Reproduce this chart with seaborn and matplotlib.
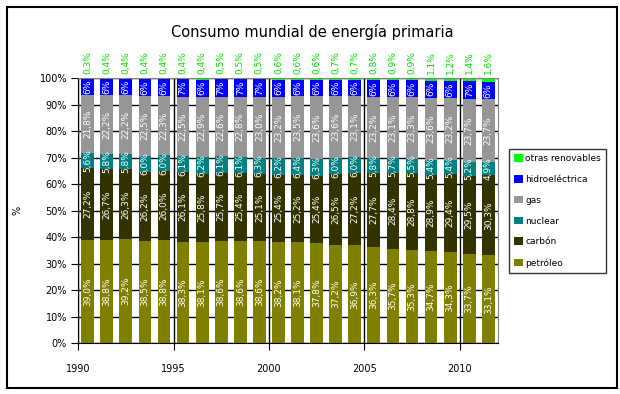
import matplotlib
matplotlib.use("Agg")
import matplotlib.pyplot as plt
from matplotlib.patches import Patch, Rectangle
import numpy as np
import pandas as pd
import seaborn as sns

anios = list(range(1990, 2012))
petroleo = [39.0, 38.8, 39.2, 38.5, 38.8, 38.3, 38.1, 38.6, 38.6, 38.6, 38.2,
            38.1, 37.8, 37.2, 36.9, 36.3, 35.7, 35.3, 34.7, 34.3, 33.7, 33.1]
carbon = [27.2, 26.7, 26.3, 26.2, 26.0, 26.1, 25.8, 25.7, 25.4, 25.1, 25.4,
          25.2, 25.4, 26.5, 27.2, 27.7, 28.4, 28.8, 28.9, 29.4, 29.5, 30.3]
nuclear = [5.6, 5.8, 5.8, 6.0, 6.0, 6.1, 6.2, 6.1, 6.1, 6.3, 6.2,
           6.4, 6.3, 6.0, 6.0, 5.8, 5.7, 5.5, 5.4, 5.4, 5.2, 4.9]
gas = [21.8, 22.2, 22.2, 22.5, 22.3, 22.5, 22.9, 22.6, 22.8, 23.0, 23.2,
       23.5, 23.6, 23.6, 23.1, 23.2, 23.1, 23.3, 23.6, 23.2, 23.7, 23.7]
hidro = [6.1, 6.1, 6.1, 6.4, 6.4, 6.6, 6.4, 6.6, 6.6, 6.6, 6.4,
         6.2, 6.3, 6.0, 6.1, 6.2, 6.2, 6.2, 6.3, 6.4, 6.6, 6.4]
renovables = [0.3, 0.4, 0.4, 0.4, 0.4, 0.4, 0.4, 0.5, 0.5, 0.5, 0.6,
              0.6, 0.6, 0.7, 0.7, 0.8, 0.9, 0.9, 1.1, 1.2, 1.4, 1.6]

fuentes = ['petróleo', 'carbón', 'nuclear', 'gas', 'hidroeléctrica', 'otras renovables']
colores = ['#808000', '#333300', '#008080', '#969696', '#0000ff', '#00ff00']

df = pd.DataFrame({'anio': anios, 'petróleo': petroleo, 'carbón': carbon,
                   'nuclear': nuclear, 'gas': gas, 'hidroeléctrica': hidro,
                   'otras renovables': renovables})
df['x'] = df['anio'] + 0.5  # barras centradas en el año
acum = df[fuentes].cumsum(axis=1)

fig = plt.figure(figsize=(6.2, 3.94), dpi=100)
ax = fig.add_axes([0.126, 0.129, 0.677, 0.673])

# capas de arriba hacia abajo
for f, c in zip(fuentes[::-1], colores[::-1]):
    sns.barplot(x=df['x'], y=acum[f], color=c, saturation=1, width=0.67,
                native_scale=True, errorbar=None, ax=ax, linewidth=0)

# etiquetas dentro de las barras
for i, row in df.iterrows():
    base = 0
    for f in fuentes[:5]:
        v = row[f]
        if f == 'hidroeléctrica':
            txt = f"{v:.0f}%"
        else:
            txt = f"{v:.1f}%".replace('.', ',')
        ax.text(row['x'], base + v / 2, txt, rotation=90, ha='center', va='center',
                color='white', fontsize=6.5)
        base += v
    ax.text(row['x'], 101.5, f"{row['otras renovables']:.1f}%".replace('.', ','),
            rotation=90, ha='center', va='bottom', color='#00dd00', fontsize=6.5,
            clip_on=False)

ax.set_xlim(1990, 2012)
ax.set_ylim(0, 100)
ax.set_xticks(range(1990, 2011, 5))
ax.set_xticklabels([str(a) for a in range(1990, 2011, 5)], fontsize=7)
ax.set_yticks(range(0, 101, 10))
ax.set_yticklabels([f"{v}%" for v in range(0, 101, 10)], fontsize=7)
ax.tick_params(axis='x', length=5, pad=10, color='black')
ax.tick_params(axis='y', length=5, pad=3, color='black')
ax.set_xlabel('')
ax.set_ylabel('%', fontsize=7)
ax.yaxis.set_label_coords(-0.133, 0.5)

ax.set_axisbelow(True)
ax.grid(True, axis='both', color='black', linewidth=1)
for s in ['top', 'right']:
    ax.spines[s].set_color('#808080')
for s in ['left', 'bottom']:
    ax.spines[s].set_color('black')

fig.text(0.503, 0.918, 'Consumo mundial de energía primaria', ha='center', va='center',
         fontsize=10.5)

handles = [Patch(facecolor=c, edgecolor='none') for c in colores[::-1]]
leg = fig.legend(handles, fuentes[::-1], loc='upper left', bbox_to_anchor=(0.821, 0.622),
                 fontsize=6.5, frameon=True, fancybox=False, edgecolor='black',
                 labelspacing=1.3, handlelength=0.9, handleheight=0.9,
                 handletextpad=0.3, borderpad=0.6, borderaxespad=0)
leg.get_frame().set_linewidth(1)

fig.patches.append(Rectangle((0.0113, 0.0152), 0.984, 0.967, transform=fig.transFigure,
                             fill=False, edgecolor='black', linewidth=1.5))

fig.savefig('out.png', dpi=100)
